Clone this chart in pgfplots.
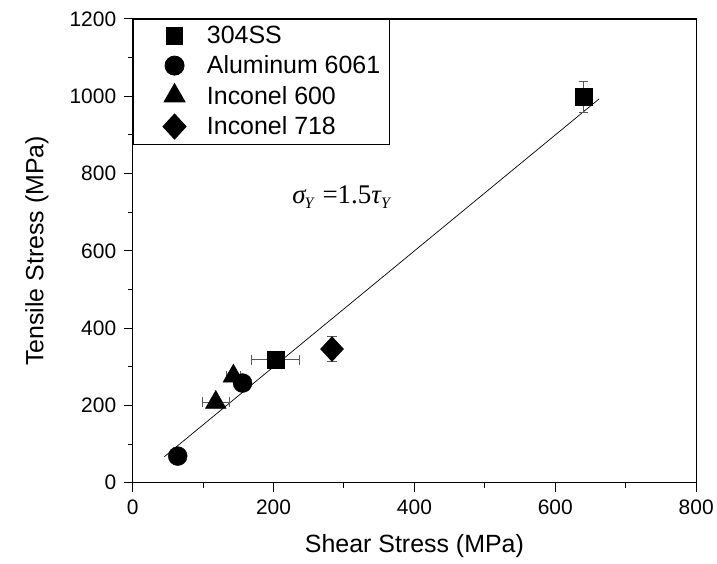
\documentclass[border=0pt]{standalone}
\usepackage{pgfplots}
\pgfplotsset{compat=1.18}
\usepackage{fontspec}
\setmainfont{Liberation Sans}
\newfontfamily\tnr{Liberation Serif}
\begin{document}
\begin{tikzpicture}
\begin{axis}[
  scale only axis,
  width=565pt, height=465pt,
  xmin=0, xmax=800, ymin=0, ymax=1200,
  xtick={0,200,400,600,800},
  ytick={0,200,400,600,800,1000,1200},
  minor tick num=1,
  tick align=outside,
  xtick pos=bottom, ytick pos=left,
  major tick length=9pt, minor tick length=5pt,
  every tick/.style={black, line width=1pt},
  axis line style={line width=1.2pt},
  /pgf/number format/assume math mode=true,
  /pgf/number format/1000 sep={},
  tick label style={font=\fontsize{21}{25}\selectfont},
  xticklabel style={yshift=-5pt},
  yticklabel style={xshift=-4pt},
  label style={font=\fontsize{25}{29}\selectfont},
  xlabel={Shear Stress (MPa)},
  ylabel={Tensile Stress (MPa)},
  xlabel style={at={(rel axis cs:0.5,-0.1355)}, anchor=center},
  ylabel style={at={(rel axis cs:-0.1699,0.5)}, anchor=center},
  clip=false,
  legend style={at={(rel axis cs:0,1)}, anchor=north west, draw=black, line width=1pt,
    font=\fontsize{25}{28}\selectfont, inner xsep=7.5pt, inner ysep=5pt,
    row sep=6.5pt, cells={anchor=west}},
  legend image code/.code={\path (0pt,0pt) (63.5pt,0pt); \draw[mark repeat=2,mark phase=2,#1] plot coordinates {(0pt,0pt)(33.5pt,0pt)(67pt,0pt)};},
  error bars/error bar style={black!65, line width=0.9pt},
  error bars/error mark options={rotate=90, mark size=5pt, black!65, line width=0.9pt},
]
\path (rel axis cs:-0.2354,-0.1742) rectangle (rel axis cs:1.0336,1.0409);
\addplot[forget plot, black, line width=0.7pt] coordinates {(45,67.5) (662,993)};
\addplot[only marks, mark=square*, mark size=8.3pt, black,
  error bars/.cd, x dir=both, x explicit, y dir=both, y explicit]
  coordinates {(203,318) +- (34,0) (640,999) +- (0,40)};
\addlegendentry{304SS}
\addplot[only marks, mark=*, mark size=9.5pt, black,
  error bars/.cd, y dir=both, y explicit]
  coordinates {(64,69) +- (0,0) (156,258) +- (0,18)};
\addlegendentry{Aluminum 6061}
\addplot[only marks, mark=triangle*, mark size=12pt, black,
  error bars/.cd, x dir=both, x explicit]
  coordinates {(118,208) +- (19,0) (143,276) +- (10,0)};
\addlegendentry{Inconel 600}
\addplot[only marks, mark=diamond*, mark size=12.5pt, mark options={xscale=1.23}, black,
  error bars/.cd, y dir=both, y explicit]
  coordinates {(283,346) +- (0,33)};
\addlegendentry{Inconel 718}
\node[font=\tnr\fontsize{27}{31}\selectfont, inner sep=0pt] at (axis cs:296,740)
  {\itshape σ\kern-1pt\raisebox{-5pt}{\fontsize{16}{18}\selectfont Y}\kern9pt\upshape =1.5\itshape τ\raisebox{-5pt}{\fontsize{16}{18}\selectfont Y}};
\end{axis}
\end{tikzpicture}
\end{document}
